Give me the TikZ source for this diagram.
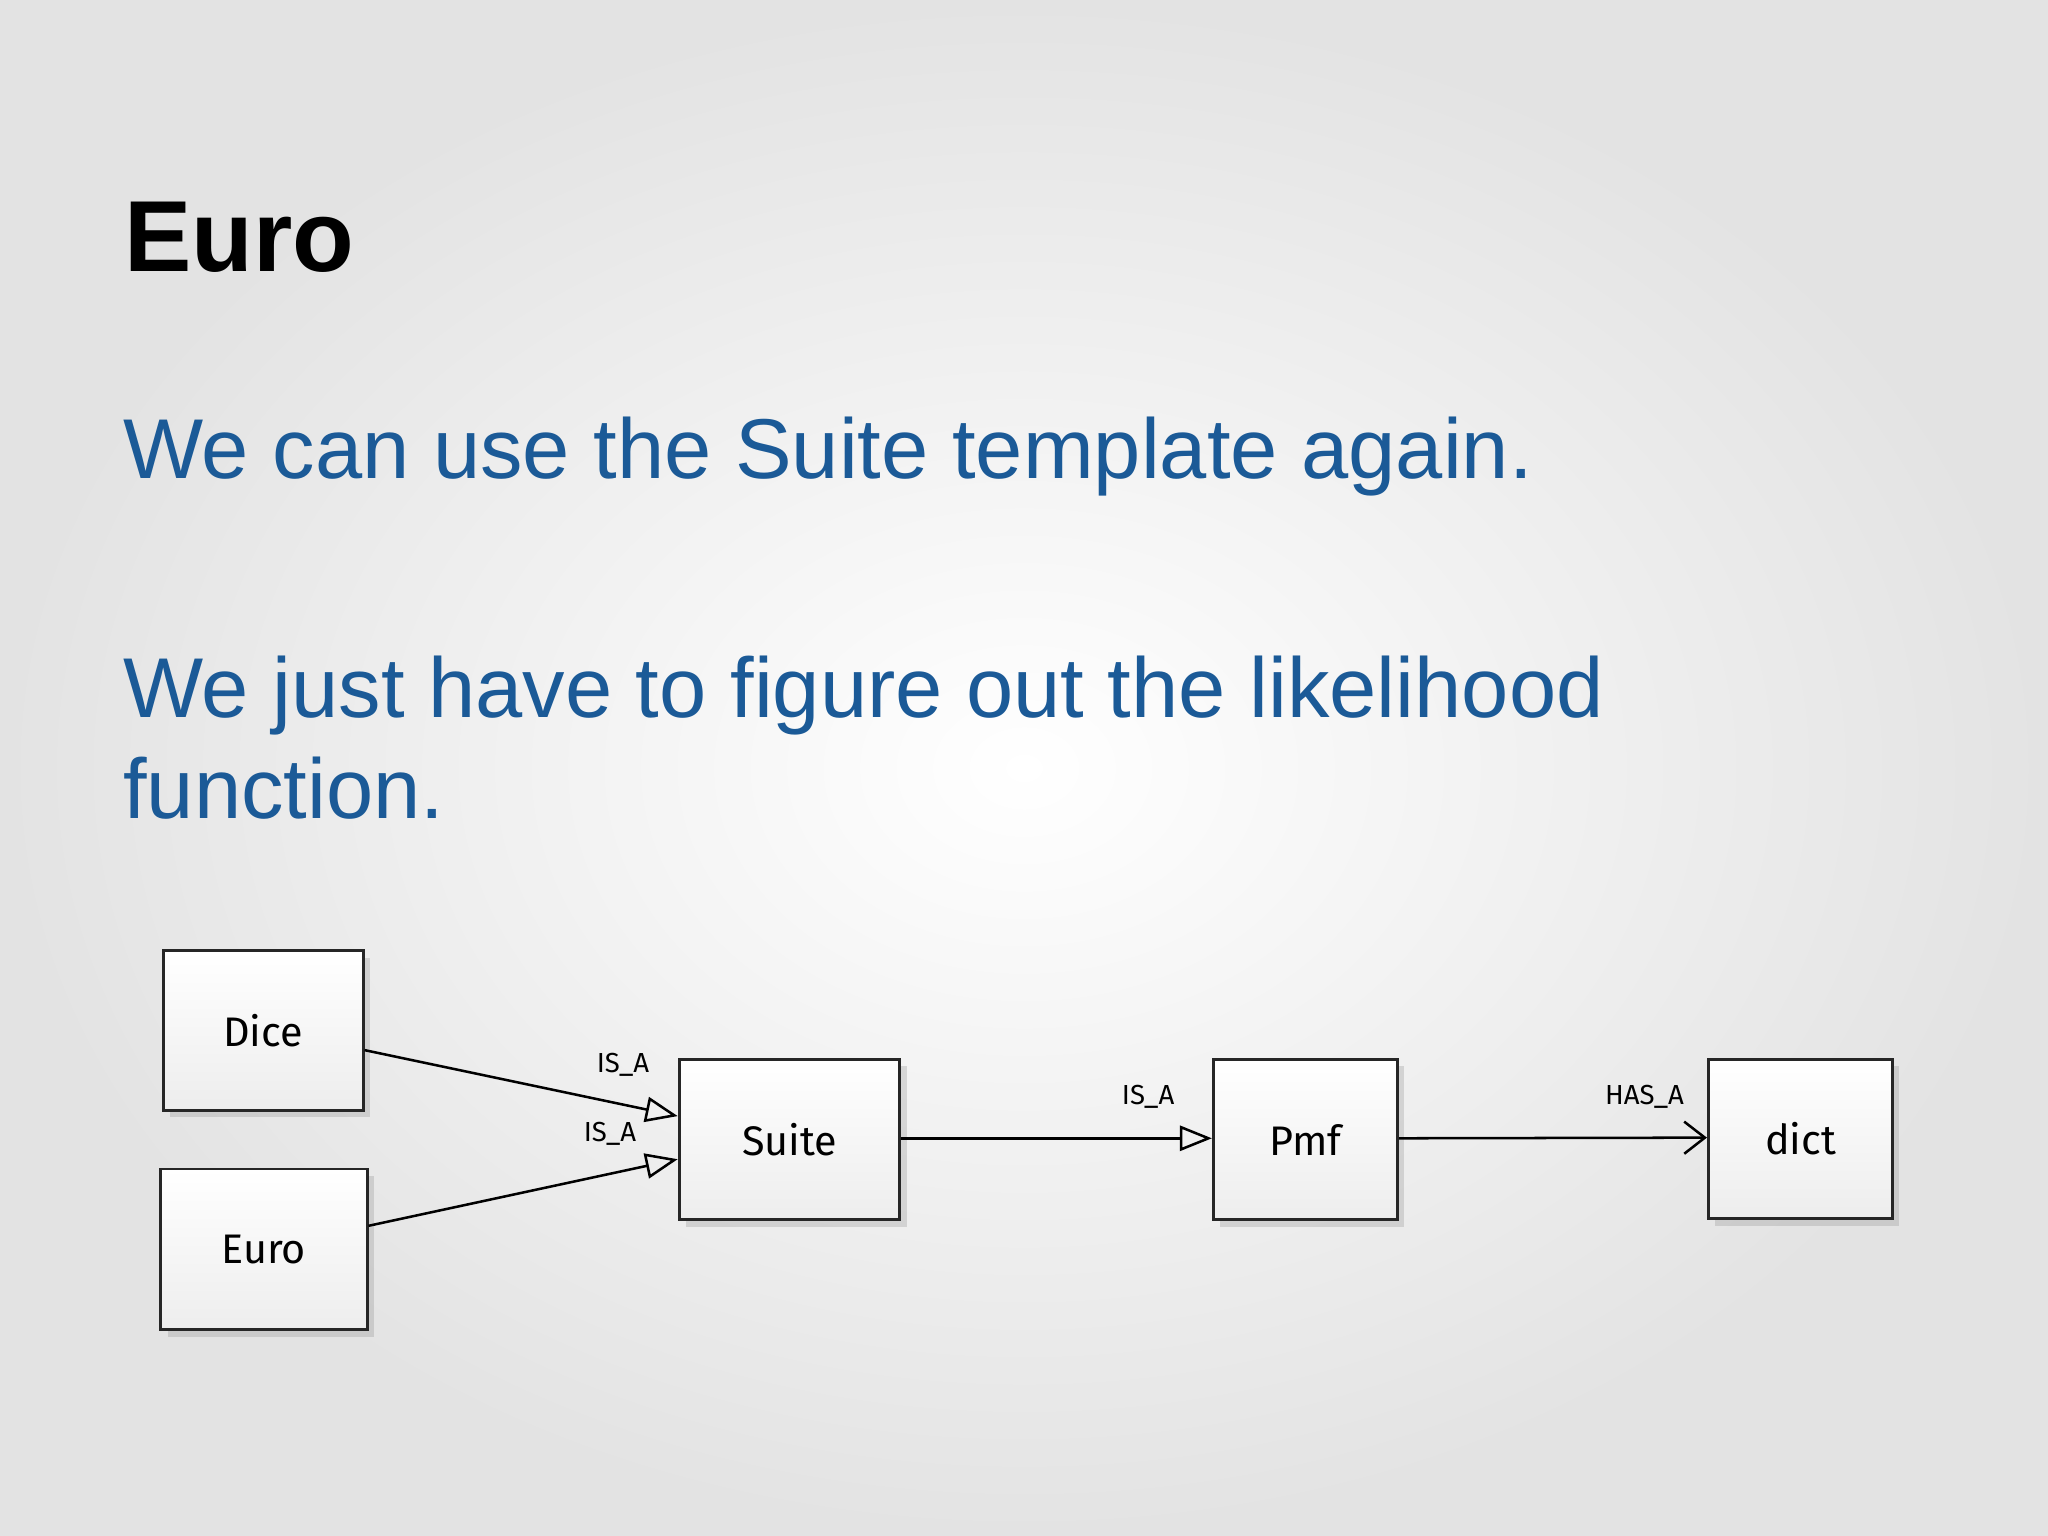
\documentclass[tikz,border=0pt]{standalone}
\usepackage{fontspec}
\setmainfont{Liberation Sans}
\newfontfamily\handfont{Fira Sans}
\usetikzlibrary{arrows.meta,calc,shadows}
\definecolor{slideblue}{HTML}{1B5A97}
\begin{document}
\begin{tikzpicture}[x=0.02cm,y=-0.02cm,
  cls/.style={draw=black!85,line width=1.3pt,top color=white,bottom color=black!7,inner sep=0pt,
    drop shadow={opacity=0.25,shadow xshift=3pt,shadow yshift=-3pt},
    font=\handfont\fontsize{18}{22}\selectfont},
  isa/.style={line width=1.1pt,-{Triangle[open,length=14pt,width=11pt]}},
  hasa/.style={line width=1.1pt,-{Straight Barb[length=9pt,width=14pt]}},
  lbl/.style={font=\handfont\fontsize{12}{14}\selectfont}]
\shade[inner color=white,outer color=black!11] (0,0) rectangle (1568,1176);
\useasboundingbox (0,0) rectangle (1568,1176);
\node[anchor=base west,font=\bfseries\fontsize{44}{50}\selectfont,inner sep=0pt] (t) at (95,208) {Euro};
\node[anchor=base west,text=slideblue,font=\fontsize{37}{43}\selectfont,inner sep=0pt] (l1) at (94,366) {We can use the Suite template again.};
\node[anchor=base west,text=slideblue,font=\fontsize{37}{43}\selectfont,inner sep=0pt] (l2) at (94,549) {We just have to figure out the likelihood};
\node[anchor=base west,text=slideblue,font=\fontsize{37}{43}\selectfont,inner sep=0pt] (l3) at (94,627) {function.};
\node[cls,minimum width=153*0.02cm,minimum height=122*0.02cm] (dice) at (201.5,789) {Dice};
\node[cls,minimum width=158*0.02cm,minimum height=123*0.02cm] (euro) at (202,956.5) {Euro};
\node[cls,minimum width=169*0.02cm,minimum height=123*0.02cm] (suite) at (604.5,872.5) {Suite};
\node[cls,minimum width=141*0.02cm,minimum height=123*0.02cm] (pmf) at (999.5,872.5) {Pmf};
\node[cls,minimum width=141*0.02cm,minimum height=122*0.02cm] (dict) at (1378.5,872) {dict};
\draw[isa] ($(dice.east)+(0,15)$) -- ($(suite.west)+(0,-18)$);
\draw[isa] ($(euro.east)+(0,-18)$) -- ($(suite.west)+(0,15)$);
\draw[isa] ($(suite.east)+(0,-1)$) -- ($(pmf.west)+(0,-1)$);
\draw[hasa] ($(pmf.east)+(0,-1)$) -- ($(dict.west)+(0,-1)$);
\node[lbl] (a1) at (477,815) {IS\_A};
\node[lbl] (a2) at (467,868) {IS\_A};
\node[lbl] (a3) at (879,840) {IS\_A};
\node[lbl] (a4) at (1259,840) {HAS\_A};
\end{tikzpicture}
\end{document}
